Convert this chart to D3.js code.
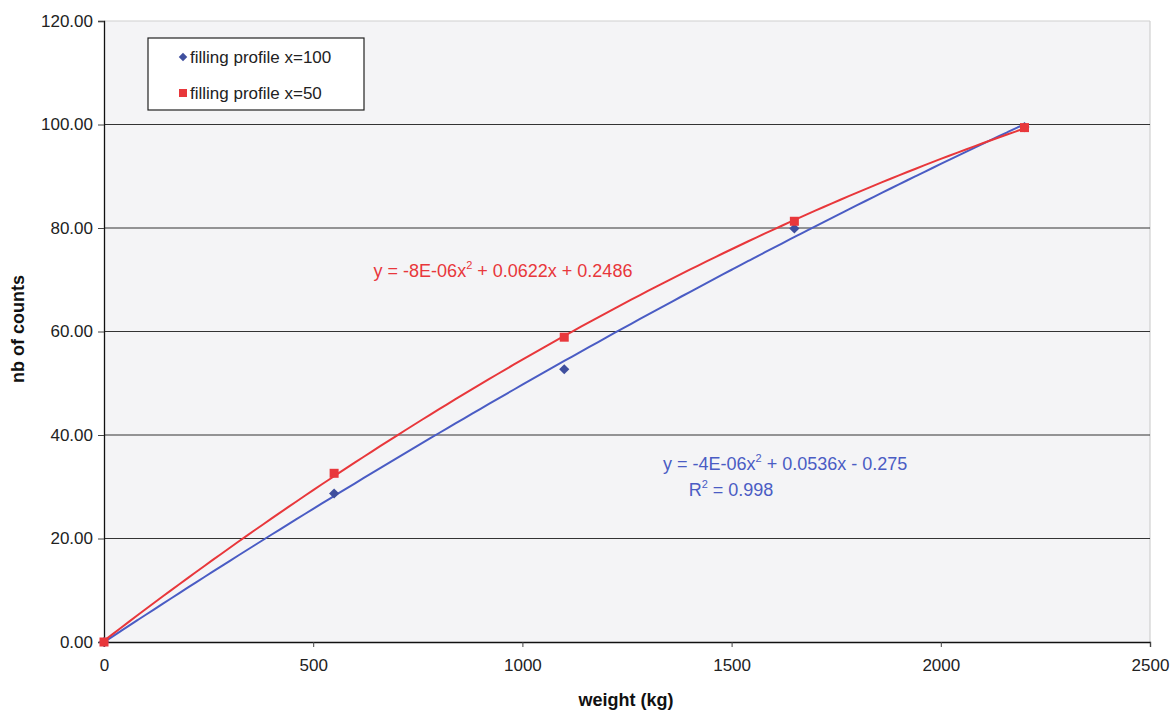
<!DOCTYPE html>
<html>
<head>
<meta charset="utf-8">
<script src="https://cdn.jsdelivr.net/npm/d3@7"></script>
<style>
  body { margin: 0; background: #fff; }
  svg text { font-family: "Liberation Sans", Arial, sans-serif; }
</style>
</head>
<body>
<div id="chart"></div>
<script>
// data
const weights = [0, 550, 1100, 1650, 2200]
const profile100 = [0, 28.7, 52.7, 79.9, 99.5]
const profile50 = [0, 32.6, 58.9, 81.3, 99.4]
const xTicks = [0, 500, 1000, 1500, 2000, 2500]
const yTicks = [0, 20, 40, 60, 80, 100, 120]
const seriesNames = ["filling profile x=100", "filling profile x=50"]

const width = 1173
const height = 712
const margin = {top: 21, bottom: 70, left: 104, right: 23}
const innerW = width - margin.left - margin.right
const innerH = height - margin.top - margin.bottom

const blue = "#4a5cc4"
const red = "#e8373b"

const svg = d3.select("div#chart").append("svg").attr("width", width).attr("height", height)
const g = svg.append("g").attr("transform", `translate(${margin.left}, ${margin.top})`)

const x = d3.scaleLinear().domain([0, 2500]).range([0, innerW])
const y = d3.scaleLinear().domain([0, 120]).range([innerH, 0])

// plot background
g.append("rect").attr("width", innerW).attr("height", innerH).attr("fill", "#f4f4f6")
g.append("line").attr("x1", innerW).attr("x2", innerW).attr("y1", 0).attr("y2", innerH)
  .attr("stroke", "#c8c8c8")

// gridlines
g.selectAll(".grid").data(yTicks.filter(d => d > 0)).enter().append("line")
  .attr("class", "grid")
  .attr("x1", 0).attr("x2", innerW)
  .attr("y1", d => y(d)).attr("y2", d => y(d))
  .attr("stroke", d => d == 120 ? "#cfcfcf" : "#333")
  .attr("stroke-width", d => d == 120 ? 1 : 1.2)

// axes
const xAxis = d3.axisBottom(x).tickValues(xTicks).tickSize(5).tickPadding(12).tickFormat(d3.format("d"))
const yAxis = d3.axisLeft(y).tickValues(yTicks).tickSize(6).tickPadding(5).tickFormat(d3.format(".2f"))
const xg = g.append("g").attr("transform", `translate(0, ${innerH})`).call(xAxis)
const yg = g.append("g").call(yAxis)
;[xg, yg].forEach(a => {
  a.selectAll("text").style("font-size", "17px").attr("fill", "#222")
  a.select(".domain").attr("stroke", "#111").attr("stroke-width", 1.3)
  a.selectAll(".tick line").attr("stroke", "#444")
})

// labels
svg.append("text").text("weight (kg)")
  .attr("x", 626).attr("y", 706).attr("text-anchor", "middle")
  .style("font-size", "18px").style("font-weight", "bold").attr("fill", "#111")
svg.append("text").text("nb of counts")
  .attr("transform", "translate(24, 329) rotate(-90)").attr("text-anchor", "middle")
  .style("font-size", "18px").style("font-weight", "bold").attr("fill", "#111")

// quadratic least squares fit (trendline)
function polyFit(xs, ys) {
  const n = xs.length
  let s = [0, 0, 0, 0, 0], t = [0, 0, 0]
  for (let i = 0; i < n; i++) {
    for (let k = 0; k < 5; k++) s[k] += Math.pow(xs[i], k)
    for (let k = 0; k < 3; k++) t[k] += ys[i] * Math.pow(xs[i], k)
  }
  const A = [[s[0], s[1], s[2], t[0]], [s[1], s[2], s[3], t[1]], [s[2], s[3], s[4], t[2]]]
  for (let i = 0; i < 3; i++) {
    for (let j = i + 1; j < 3; j++) {
      const f = A[j][i] / A[i][i]
      for (let k = i; k < 4; k++) A[j][k] -= f * A[i][k]
    }
  }
  const c = [0, 0, 0]
  for (let i = 2; i >= 0; i--) {
    let v = A[i][3]
    for (let k = i + 1; k < 3; k++) v -= A[i][k] * c[k]
    c[i] = v / A[i][i]
  }
  return c
}

const line = d3.line().x(d => x(d[0])).y(d => y(d[1])).curve(d3.curveMonotoneX)
function trend(vals, color) {
  const c = polyFit(weights, vals)
  const pts = d3.range(0, 2201, 20).map(w => [w, c[0] + c[1] * w + c[2] * w * w])
  g.append("path").datum(pts).attr("d", line)
    .attr("fill", "none").attr("stroke", color).attr("stroke-width", 2)
}
trend(profile100, blue)
trend(profile50, red)

// markers
const pts100 = weights.map((w, i) => [w, profile100[i]])
const pts50 = weights.map((w, i) => [w, profile50[i]])
g.selectAll(".dia").data(pts100).enter().append("rect")
  .attr("x", -3.6).attr("y", -3.6).attr("width", 7.2).attr("height", 7.2)
  .attr("transform", d => `translate(${x(d[0])}, ${y(d[1])}) rotate(45)`)
  .attr("fill", "#3f4f9e")
g.selectAll(".sq").data(pts50).enter().append("rect")
  .attr("x", d => x(d[0]) - 4.5).attr("y", d => y(d[1]) - 4.5)
  .attr("width", 9).attr("height", 9).attr("fill", red)

// equations
function supText(sel, before, sup, after) {
  sel.append("tspan").text(before)
  sel.append("tspan").text(sup).attr("dy", -8).style("font-size", "11px")
  sel.append("tspan").text(after).attr("dy", 8)
}
supText(svg.append("text").attr("x", 503).attr("y", 277).attr("text-anchor", "middle")
  .style("font-size", "18px").attr("fill", red), "y = -8E-06x", "2", " + 0.0622x + 0.2486")
supText(svg.append("text").attr("x", 663).attr("y", 470)
  .style("font-size", "18px").attr("fill", blue), "y = -4E-06x", "2", " + 0.0536x - 0.275")
supText(svg.append("text").attr("x", 731).attr("y", 496).attr("text-anchor", "middle")
  .style("font-size", "18px").attr("fill", blue), "R", "2", " = 0.998")

// legend
const legend = svg.append("g").attr("transform", "translate(148, 38)")
legend.append("rect").attr("width", 216).attr("height", 72)
  .attr("fill", "#fff").attr("stroke", "#222").attr("stroke-width", 1.2)
legend.append("rect").attr("x", -3).attr("y", -3).attr("width", 6).attr("height", 6)
  .attr("transform", "translate(35, 19) rotate(45)").attr("fill", "#3f4f9e")
legend.append("rect").attr("x", 31).attr("y", 51).attr("width", 8).attr("height", 8).attr("fill", red)
legend.selectAll(".lt").data(seriesNames).enter().append("text")
  .attr("x", 42).attr("y", (d, i) => 25 + i * 36)
  .text(d => d).style("font-size", "17px").attr("fill", "#222")
</script>
</body>
</html>
